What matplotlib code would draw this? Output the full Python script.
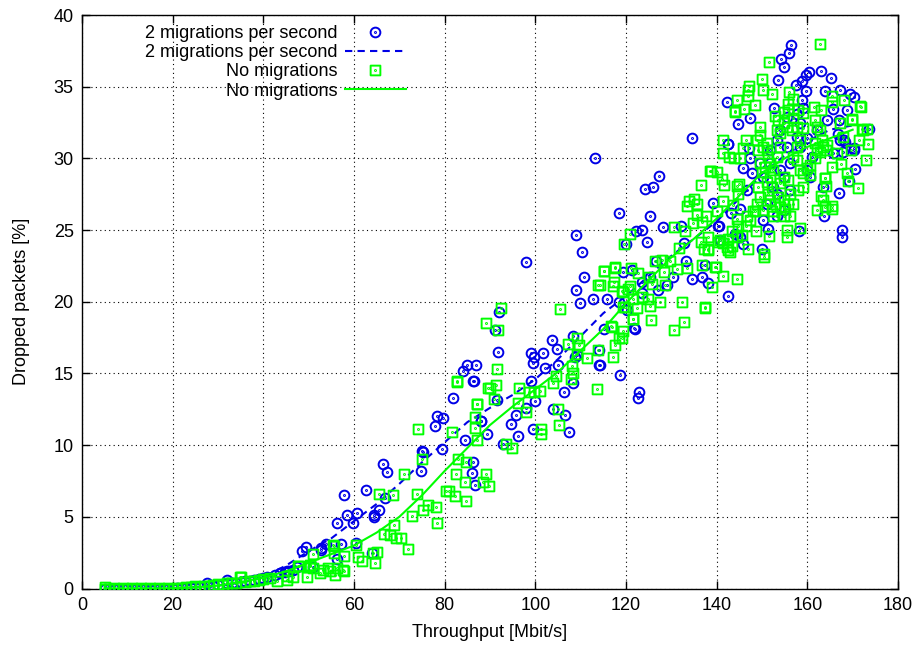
"""Dropped packets vs throughput, with and without migrations."""

import matplotlib

matplotlib.use("Agg")
import matplotlib.pyplot as plt
import numpy as np
from matplotlib.lines import Line2D
from matplotlib.path import Path

# 2 migrations per second: measured points (throughput Mbit/s, dropped %)
mig2_x = [
    5, 6, 7, 8, 9, 10, 11, 12, 13, 14, 15, 16, 17, 18, 19, 20, 21, 22, 23, 24,
    25, 26, 27.5, 28, 29, 30, 31.9, 32, 33, 34, 35, 36, 37, 38, 39, 40, 40.7,
    42.5, 43.7, 44.8, 45.2, 45.6, 46.6, 47.4, 48.6, 49.5, 51, 52.7, 52.8, 53.8,
    56.3, 56.3, 57.1, 57.8, 58.4, 59.7, 60.4, 60.7, 62.6, 63.9, 64.4, 64.5,
    65.6, 66.5, 66.9, 67.2, 74.8, 75.1, 75.2, 77.9, 78.4, 79.5, 79.6, 81.8, 84,
    84.5, 85, 86, 86.2, 86.3, 86.4, 86.6, 87, 88, 88.1, 89.4, 91.1, 91.5, 91.7,
    92, 92.8, 94.6, 95.7, 96.2, 97.9, 97.9, 99.1, 99.1, 99.4, 99.4, 99.8, 99.9,
    101.7, 102.1, 103.6, 103.8, 104.7, 104.9, 106.3, 106.6, 107.5, 108.2,
    108.4, 108.8, 108.9, 109, 109.1, 109.9, 110.2, 110.7, 112.8, 113.2, 114,
    114.1, 114.3, 115.2, 115.8, 118.4, 118.5, 118.7, 119.3, 119.9, 120.2,
    121.4, 121.8, 122, 122.3, 122.6, 122.8, 123.5, 123.5, 123.5, 124.3, 124.6,
    125.3, 125.4, 126, 126.6, 127, 127.3, 128.1, 129, 130.3, 132.1, 132.9,
    133.2, 134.5, 134.6, 136.7, 137.5, 138.1, 139.1, 140.4, 140.5, 140.8,
    142.2, 142.5, 142.6, 142.6, 143.1, 144.1, 144.7, 145.1, 145.2, 145.8,
    145.9, 146.7, 147.1, 147.4, 147.4, 147.8, 149.6, 150, 150.3, 150.3, 151,
    151.4, 151.8, 151.8, 152.5, 152.6, 153.3, 153.3, 153.3, 153.6, 154, 154,
    154.1, 154.8, 154.8, 154.9, 155.5, 155.5, 155.9, 156.2, 156.2, 156.3,
    157.5, 157.7, 157.7, 158.1, 158.4, 158.4, 158.8, 158.9, 159, 159.7, 159.8,
    159.9, 159.9, 160.4, 160.6, 161, 162.1, 163, 163.4, 163.6, 163.9, 164.3,
    165.2, 165.7, 165.7, 166.7, 166.9, 167, 167.2, 167.3, 167.6, 167.6, 167.9,
    168, 168.4, 168.8, 169.1, 169.4, 170.2, 170.2, 170.4, 170.5, 173.5,
]
mig2_y = [
    0, 0, 0, 0, 0, 0, 0, 0, 0, 0, 0, 0, 0, 0, 0, 0, 0.02, 0.03, 0.05, 0.05,
    0.08, 0.1, 0.35, 0.15, 0.2, 0.25, 0.6, 0.35, 0.35, 0.4, 0.45, 0.5, 0.55,
    0.6, 0.65, 0.75, 0.8, 0.95, 1.05, 1.15, 1.2, 1.25, 1.3, 1.5, 2.6, 2.9, 1.5,
    2.7, 2.8, 3.1, 2.05, 4.6, 3.1, 6.5, 5.15, 4.6, 3.2, 5.3, 6.9, 2.45, 5.1,
    5.0, 5.5, 8.7, 6.3, 8.1, 8.2, 9.6, 9.5, 11.3, 12.05, 9.7, 11.9, 13.3, 15.2,
    10.35, 15.6, 8.05, 8.8, 14.5, 14.5, 7.2, 15.6, 11.7, 11.65, 10.8, 18, 13.15,
    16.5, 19.3, 10.05, 11.5, 12.1, 10.65, 22.8, 12.6, 16.4, 14.5, 15.75, 11.1,
    16.15, 13.1, 16.4, 15.4, 17.3, 12.5, 16.7, 15.6, 13.7, 12.1, 10.95, 17.6,
    14.3, 16.15, 20.8, 24.65, 16.3, 19.9, 23.5, 21.75, 20.2, 30.05, 15.6,
    16.6, 15.6, 18.1, 20.2, 20.0, 26.2, 14.9, 22.05, 24.05, 19.4, 22.2, 18.2,
    18.1, 24.9, 13.3, 13.7, 25, 21.4, 20.6, 27.85, 24.15, 21.75, 26, 28, 22.85,
    20.8, 28.8, 25.2, 21.2, 21.75, 25.3, 24.1, 22.85, 21.6, 31.4, 21.75, 22.55,
    21.3, 26.9, 25.3, 25.3, 24.3, 33.9, 31, 20.4, 31, 26.2, 24.75, 32.4, 26.5,
    24.5, 29.35, 24.05, 27.8, 30.7, 32.8, 30.05, 28.95, 29.65, 23.7, 28.7,
    25.7, 26.85, 25.05, 29.65, 30.6, 28, 33.5, 27.55, 31.3, 25.95, 35.5, 32,
    29.2, 36.9, 28.7, 26.4, 36.35, 32.9, 30.8, 37.35, 27.8, 29.65, 37.9, 35.1,
    31.5, 33.1, 24.95, 30.8, 32.45, 34.1, 35.4, 33.5, 35.85, 34.7, 31.4, 29.2,
    36.0, 28.7, 30.1, 32, 36.1, 28, 26, 34.7, 32.65, 35.6, 33.45, 30.35, 31.7,
    27.6, 32.7, 31.3, 34.75, 25, 24.5, 30.45, 31.3, 31.15, 33.35, 28.4, 34.5,
    34.25, 30.6, 30.75, 29.25, 32.05,
]

# No migrations: measured points
nomig_x = [
    5, 5, 6, 7, 8, 9, 10, 11, 12, 13, 14, 15, 16, 17, 18, 19, 20, 21, 22, 23,
    24, 25, 26, 27, 28, 29, 30, 31, 32, 33, 34, 34.9, 35, 36, 37, 38, 39.1, 40,
    41.5, 43, 45.2, 45.2, 46.6, 47.7, 47.8, 49.6, 50.3, 50.3, 50.9, 51, 52.5,
    53.2, 54.2, 54.7, 55.4, 55.5, 55.6, 55.9, 56.2, 57.6, 57.7, 57.8, 60.4,
    60.9, 61.7, 64.3, 64.7, 65, 65.6, 66.7, 67.9, 68.7, 68.8, 69.2, 70.4, 71.1,
    72, 72.9, 73.8, 74.1, 74.9, 75.2, 76.4, 78.1, 78.2, 80.4, 81, 81.6, 82.2,
    82.4, 82.7, 82.8, 82.9, 84.5, 84.6, 84.6, 86.7, 86.8, 87.1, 87.1, 87.2,
    88.5, 89.1, 89.1, 89.5, 89.7, 90, 90.8, 91.3, 91.5, 91.8, 92.4, 93.5, 94.8,
    96.1, 96.3, 97.9, 98.6, 99.8, 101, 101.2, 101.3, 103.8, 104.5, 105.1,
    105.3, 105.4, 107.1, 107.8, 108, 108.2, 109.1, 109.3, 109.7, 111.3, 113.6,
    113.8, 113.9, 114.3, 115.1, 115.2, 116.8, 117, 117.1, 117.2, 117.4, 117.5,
    117.6, 117.6, 118.4, 119.1, 119.2, 119.3, 119.3, 119.4, 119.6, 119.8,
    120.5, 120.8, 120.8, 121, 121.5, 121.6, 121.6, 122.4, 122.6, 123.6, 124.8,
    125.1, 125.2, 125.5, 125.7, 126.5, 127.6, 127.9, 128.3, 128.6, 129.6,
    130.5, 130.6, 131.2, 131.7, 132.3, 132.9, 133, 133.5, 133.5, 134, 134.7,
    134.9, 135.6, 135.7, 136.5, 136.6, 136.7, 136.7, 137.2, 137.4, 137.5,
    137.7, 138, 138, 138, 138.6, 138.7, 138.9, 139.7, 139.9, 140, 140, 140.4,
    140.8, 141.1, 141.3, 141.3, 141.3, 141.5, 141.5, 141.6, 142.3, 142.6,
    142.6, 142.8, 143, 143.3, 143.3, 143.7, 143.9, 144.1, 144.1, 144.4, 144.4,
    144.4, 144.4, 144.5, 144.7, 144.8, 145, 145.2, 145.5, 145.9, 146, 146.4,
    146.5, 146.6, 147, 147, 147, 147.1, 147.4, 148.1, 148.5, 148.5, 148.6,
    148.8, 148.8, 149.2, 149.2, 149.6, 149.6, 149.6, 149.6, 149.9, 150, 150.3,
    150.3, 150.3, 150.4, 150.5, 150.7, 151, 151, 151, 151.4, 151.4, 151.5,
    151.6, 151.8, 151.8, 151.8, 152.1, 152.1, 152.2, 152.5, 152.5, 152.9,
    152.9, 153.3, 153.3, 153.6, 153.6, 154, 154, 154, 154, 154.8, 154.8,
    154.8, 154.8, 154.8, 155.1, 155.5, 155.5, 155.6, 155.8, 155.8, 155.8,
    155.8, 156, 156.2, 156.2, 156.6, 156.9, 156.9, 156.9, 156.9, 157.7, 157.7,
    157.7, 158, 158, 158.4, 158.4, 158.4, 159.1, 159.1, 159.1, 159.1, 159.9,
    160.6, 160.6, 161.4, 161.7, 161.7, 161.7, 162.1, 162.1, 162.2, 162.7,
    162.8, 162.8, 163, 163, 163.2, 163.5, 163.5, 163.8, 163.9, 164, 164.1,
    164.1, 164.3, 165.4, 165.4, 165.4, 165.5, 165.5, 166.5, 167.1, 167.4,
    167.9, 168.1, 168.7, 169, 169.6, 169.8, 169.9, 171.1, 171.3, 171.6, 171.9,
    172.1, 172.2, 173, 173.1, 173.4,
]
nomig_y = [
    0, 0.1, 0, 0.05, 0, 0.05, 0, 0.05, 0, 0.05, 0, 0.05, 0, 0.05, 0, 0.05, 0,
    0.05, 0.05, 0.1, 0.1, 0.15, 0.1, 0.2, 0.2, 0.25, 0.3, 0.25, 0.35, 0.4, 0.4,
    0.8, 0.8, 0.45, 0.5, 0.5, 0.6, 0.65, 0.7, 0.5, 0.85, 0.6, 0.8, 1.6, 1.55,
    0.8, 1.55, 1.65, 2.4, 1.4, 1.1, 1.3, 1.45, 1.2, 3.0, 2.95, 2.45, 0.95, 1.45,
    1.3, 1.25, 2.25, 3.0, 2.2, 1.95, 2.45, 1.75, 2.55, 6.6, 3.8, 3.7, 6.55, 4.4,
    3.55, 3.5, 8.0, 2.75, 5.05, 6.6, 11.1, 9.05, 5.45, 5.85, 5.7, 4.6, 6.8,
    6.8, 10.95, 6.45, 8.0, 14.45, 14.4, 9.0, 7.45, 8.8, 6.1, 11.2, 11.95,
    12.85, 12.9, 10.35, 7.45, 8.0, 18.55, 13.95, 7.15, 13.95, 13.25, 14.2,
    15.3, 18, 19.55, 10.05, 9.8, 12.95, 14, 12.3, 13.7, 13.7, 13.8, 11.1, 10.8,
    14.3, 14.85, 12.55, 11.4, 19.5, 17.05, 14.6, 15.55, 15.05, 17.45, 16.35,
    17, 16.1, 13.9, 16.6, 21.15, 21.15, 22.15, 22.15, 18.3, 18.25, 16.15, 21.1,
    21.4, 22.4, 22.35, 16.95, 17.45, 20.75, 17.5, 19.6, 20.7, 17.95, 24, 19.65,
    20.9, 24.7, 21.1, 22.35, 18.8, 18.8, 20.2, 19.55, 22, 20.35, 20.2, 21.75,
    19.7, 18.7, 21.25, 22.85, 20, 22.9, 22.1, 21.2, 22.85, 18, 25.2, 22.25,
    23.75, 20, 18.6, 24.9, 22.35, 26.65, 27, 25.5, 27.2, 26.85, 26.05, 28.15,
    24.15, 25.55, 22.55, 23.7, 19.6, 19.55, 26, 24.5, 23.65, 23.6, 29.15,
    29.15, 21, 22.45, 22.4, 26.35, 29.05, 24.2, 24.3, 28.55, 31.3, 27.05, 21.8,
    30.4, 24.1, 28.15, 23.85, 24.4, 23.6, 30.1, 23.5, 24.9, 23.9, 26.75, 30,
    33.25, 33.3, 24.55, 21.6, 28.1, 25.8, 34.1, 25.25, 27.55, 28.2, 30, 24.65,
    30.7, 33.45, 25.25, 31.3, 25.95, 34.35, 34.75, 23.65, 35.05, 25.7, 26.3,
    33.7, 26.3, 24.95, 31.3, 26.85, 30.6, 28, 32.2, 31.6, 29.65, 27.3, 29.05,
    35.55, 34.75, 30.8, 26.4, 23.35, 23.15, 29.4, 31.05, 30.6, 28.35, 30.1,
    27.55, 36.7, 24.6, 29.65, 28.7, 27.1, 28, 26.3, 34.5, 29.2, 25.95, 32.95,
    26.85, 30.1, 32, 32.65, 27.3, 26.6, 28.25, 30.8, 31.75, 33.25, 32.45, 28.7,
    27.1, 25.95, 26.5, 32.2, 25, 24.55, 33.8, 33.35, 28.5, 26.85, 34.6, 27.55,
    25.95, 32, 34.15, 32.8, 30.1, 26.85, 32.2, 30.8, 29.9, 33.35, 27.8, 31.3,
    29.2, 25.15, 32.1, 33.15, 28.95, 28, 29.3, 28.85, 29.55, 33.6, 32.65,
    31.05, 30, 32.2, 26.4, 30.6, 38, 32, 30.45, 33.4, 27.35, 31.3, 30.8, 27.1,
    26.6, 28.65, 28.6, 30.6, 28.1, 30.95, 29.4, 26.7, 26.5, 34.35, 33.95,
    30.35, 32.5, 29.6, 31.5, 34.05, 29, 28.4, 30.6, 32.7, 32.75, 27.9, 31.3,
    33.65, 33.6, 32.05, 32, 29.9, 32.05, 31,
]

# fitted curves
fit_x = [5, 10, 15, 20, 25, 30, 35, 40, 45, 50, 55, 60, 65, 70, 75, 80, 85,
         90, 95, 100, 105, 110, 115, 120, 125, 130, 135, 140, 145, 150, 155,
         160, 165, 170]
mig2_fit_y = [0, 0, 0, 0.03, 0.1, 0.2, 0.4, 0.8, 1.6, 2.6, 3.5, 4.7, 5.9,
              7.3, 8.8, 10.2, 11.6, 12.6, 13.5, 14.6, 16, 17.6, 19.2, 20.4,
              21.8, 23.2, 24.4, 25.6, 27.2, 28.9, 30.2, 31.2, 32, 32.3]
nomig_fit_y = [0, 0, 0, 0.02, 0.08, 0.2, 0.45, 0.75, 1.2, 1.8, 2.4, 3.0, 3.9,
               5.0, 6.5, 8.2, 9.8, 11.4, 12.7, 13.9, 15.1, 16.6, 18.1, 19.9,
               21.5, 23.1, 24.4, 25.8, 27.4, 29, 30, 30.8, 31.4, 32]

BLUE = "#0000e6"
GREEN = "#00ff00"
FS = 13

plt.rcParams["font.family"] = ["Liberation Sans", "DejaVu Sans"]
plt.rcParams["font.size"] = FS

# gnuplot-like markers: open shape with a dot in the middle
circ_dot = Path.make_compound_path(Path.circle((0, 0), 1.0),
                                   Path.circle((0, 0), 0.1))
sq = Path([(-1, -1), (1, -1), (1, 1), (-1, 1), (-1, -1)],
          [Path.MOVETO, Path.LINETO, Path.LINETO, Path.LINETO, Path.CLOSEPOLY])
sq_dot = Path.make_compound_path(sq, Path.circle((0, 0), 0.1))

fig = plt.figure(figsize=(9.17, 6.46), dpi=100)
ax = fig.add_axes([82 / 917, 1 - 588.5 / 646, 816 / 917, 573.5 / 646])

pt_kw = dict(ls="none", mfc="none", mew=1.4)
ax.plot(mig2_x, mig2_y, marker=circ_dot, ms=7.0, mec=BLUE, **pt_kw, zorder=3)
ax.plot(fit_x, mig2_fit_y, color=BLUE, lw=1.5, dashes=(3.5, 2.5), zorder=4)
ax.plot(nomig_x, nomig_y, marker=sq_dot, ms=7.0, mec=GREEN, **pt_kw, zorder=5)
ax.plot(fit_x, nomig_fit_y, color=GREEN, lw=1.5, zorder=6)

ax.set_xlim(0, 180)
ax.set_ylim(0, 40)
ax.set_xticks(np.arange(0, 181, 20))
ax.set_yticks(np.arange(0, 41, 5))
ax.tick_params(direction="in", top=True, right=True, length=6, width=1,
               labelsize=FS, pad=6)
ax.grid(True, color="black", lw=0.8, ls=(0, (1, 3)))
ax.set_axisbelow(True)
for s in ax.spines.values():
    s.set_linewidth(1.0)
ax.set_xlabel("Throughput [Mbit/s]", fontsize=FS, labelpad=7)
ax.set_ylabel("Dropped packets [%]", fontsize=FS, labelpad=17)

handles = [
    Line2D([], [], marker=circ_dot, ms=7.0, mec=BLUE, **pt_kw),
    Line2D([], [], color=BLUE, lw=1.5, dashes=(3.5, 2.5)),
    Line2D([], [], marker=sq_dot, ms=7.0, mec=GREEN, **pt_kw),
    Line2D([], [], color=GREEN, lw=1.5),
]
labels = ["2 migrations per second", "2 migrations per second",
          "No migrations", "No migrations"]
leg = ax.legend(handles, labels, loc="upper right",
                bbox_to_anchor=((406 - 82) / 816, (588.5 - 25) / 573.5),
                markerfirst=False, frameon=False, borderpad=0,
                borderaxespad=0, handlelength=3.4, handletextpad=0.4,
                labelspacing=0.12, fontsize=FS)
leg.set_zorder(10)
for col in leg._legend_box.get_children()[1].get_children():
    col.align = "right"

fig.savefig("out.png", dpi=100)
